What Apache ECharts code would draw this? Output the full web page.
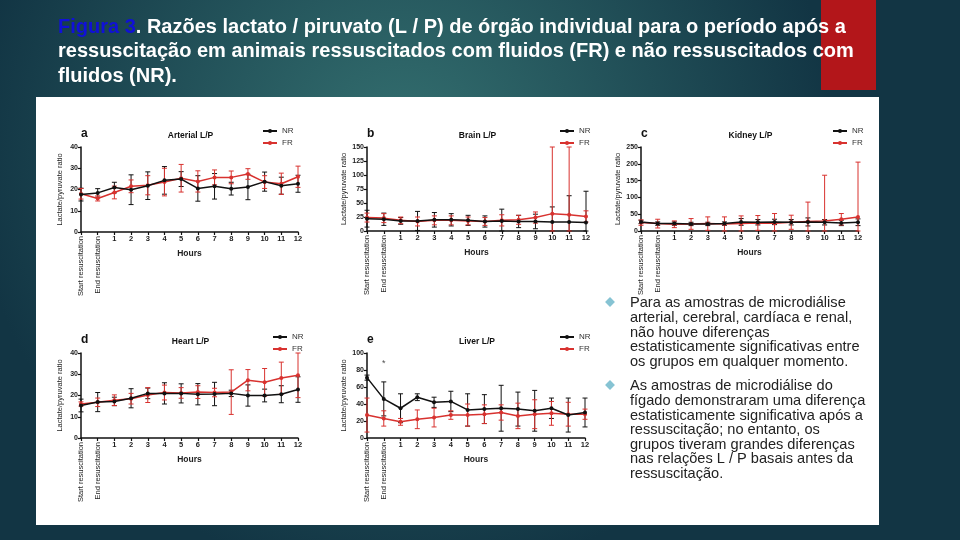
<!DOCTYPE html>
<html>
<head>
<meta charset="utf-8">
<script src="https://cdn.jsdelivr.net/npm/echarts@6/dist/echarts.min.js"></script>
<style>
  html, body { margin: 0; padding: 0; }
  #main { width: 960px; height: 540px; }
</style>
</head>
<body>
<div id="main"></div>
<script>
// categories on every x axis
const hours = ['Start resuscitation', 'End resuscitation', '1', '2', '3', '4', '5', '6', '7', '8', '9', '10', '11', '12'];

// a - arterial
const arterialNR = [17.6, 18.4, 20.9, 19.9, 21.8, 24.3, 24.9, 20.5, 21.5, 20.4, 21.2, 23.7, 21.8, 22.7];
const arterialNRsd = [3, 2, 2.5, 7, 6.5, 6.5, 3.5, 6, 6, 3, 6, 4.5, 4, 4];
const arterialFR = [18, 15.8, 18.6, 21.5, 22, 23.5, 25.3, 23.8, 25.7, 25.7, 27.3, 23.5, 22.7, 26];
const arterialFRsd = [2.5, 1.2, 3, 3, 4.5, 6.5, 6.5, 5, 3.5, 3, 2.5, 3, 5, 5];

// b - brain
const brainNR = [22, 21, 18, 18, 20, 20, 19, 17, 18, 17, 17, 16, 16, 15];
const brainNRsd = [15, 11, 6, 17, 13, 11, 9, 10, 21, 11, 13, 27, 47, 56];
const brainFR = [24, 23, 19, 17, 19, 19, 18, 17, 19, 20, 24, 31, 29, 26];
const brainFRsd = [8, 8, 6, 8, 8, 8, 7, 7, 10, 8, 10, 119, 121, 10];

// c - kidney
const kidneyNR = [27, 22, 22, 21, 21, 22, 27, 26, 27, 26, 27, 26, 24, 26];
const kidneyNRsd = [5, 5, 5, 5, 5, 5, 10, 8, 8, 8, 12, 8, 8, 10];
const kidneyFR = [25, 22, 20, 21, 22, 21, 22, 24, 23, 26, 28, 30, 35, 42];
const kidneyFRsd = [8, 13, 10, 16, 20, 21, 23, 22, 29, 21, 58, 136, 17, 163];

// d - heart
const heartNR = [15.3, 16.9, 17.2, 18.7, 21, 21, 21, 20.6, 20.7, 21, 20, 20, 20.6, 22.8];
const heartNRsd = [3, 4.5, 2, 4.5, 2.5, 5, 4.5, 5, 5.5, 1.5, 5, 3, 4, 6];
const heartFR = [16, 16.8, 17.8, 18.5, 20.2, 21.4, 21.2, 21.6, 21.4, 21.6, 27.2, 26.2, 28.2, 29.5];
const heartFRsd = [1, 2, 2.5, 2.5, 3.5, 3.5, 2.5, 3, 2, 10.5, 5, 6.5, 7.5, 10.5];

// e - liver
const liverNR = [71, 46, 35, 48, 42, 43, 33, 34, 35, 34, 32, 35, 27, 30];
const liverNRsd = [3, 20, 17, 4, 6, 12, 19, 17, 27, 20, 24, 12, 20, 17];
const liverFR = [27, 23, 19, 22, 24, 27, 27, 28, 30, 26, 28, 29, 28, 28];
const liverFRsd = [20, 9, 4, 11, 11, 5, 13, 11, 9, 15, 17, 14, 14, 6];
const liverStar = [['End resuscitation', 88]];

// y axis ticks [min, max, step]
const arterialTicks = [0, 40, 10];
const brainTicks = [0, 150, 25];
const kidneyTicks = [0, 250, 50];
const heartTicks = [0, 40, 10];
const liverTicks = [0, 100, 20];

const titleLines = [
    '{b|Figura 3}. Razões lactato / piruvato (L / P) de órgão individual para o período após a',
    'ressuscitação em animais ressuscitados com fluidos (FR) e não ressuscitados com',
    'fluidos (NR).'
];
const bullet1 = ['Para as amostras de microdiálise', 'arterial, cerebral, cardíaca e renal,', 'não houve diferenças', 'estatisticamente significativas entre', 'os grupos em qualquer momento.'];
const bullet2 = ['As amostras de microdiálise do', 'fígado demonstraram uma diferença', 'estatisticamente significativa após a', 'ressuscitação; no entanto, os', 'grupos tiveram grandes diferenças', 'nas relações L / P basais antes da', 'ressuscitação.'];

const NR_COLOR = '#111111';
const FR_COLOR = '#d8322f';
const FONT = '"Liberation Sans", Arial, sans-serif';

const panels = [
    { letter: 'a', name: 'Arterial L/P', nr: arterialNR, nrsd: arterialNRsd, fr: arterialFR, frsd: arterialFRsd, ticks: arterialTicks,
      left: 81, top: 147, width: 217, height: 85, legendLeft: 262, legendTop: 127 },
    { letter: 'b', name: 'Brain L/P', nr: brainNR, nrsd: brainNRsd, fr: brainFR, frsd: brainFRsd, ticks: brainTicks,
      left: 367, top: 147, width: 219, height: 84, legendLeft: 559, legendTop: 127 },
    { letter: 'c', name: 'Kidney L/P', nr: kidneyNR, nrsd: kidneyNRsd, fr: kidneyFR, frsd: kidneyFRsd, ticks: kidneyTicks,
      left: 641, top: 147, width: 217, height: 84, legendLeft: 832, legendTop: 127 },
    { letter: 'd', name: 'Heart L/P', nr: heartNR, nrsd: heartNRsd, fr: heartFR, frsd: heartFRsd, ticks: heartTicks,
      left: 81, top: 353, width: 217, height: 85, legendLeft: 272, legendTop: 333 },
    { letter: 'e', name: 'Liver L/P', nr: liverNR, nrsd: liverNRsd, fr: liverFR, frsd: liverFRsd, ticks: liverTicks,
      left: 367, top: 353, width: 218, height: 85, legendLeft: 559, legendTop: 333 }
];

function errData(mean, sd) {
    return mean.map((m, i) => [i, Math.max(0, m - sd[i]), m + sd[i]]);
}

function renderErr(params, api) {
    const x = api.value(0);
    const hi = api.coord([x, api.value(2)]);
    const lo = api.coord([x, api.value(1)]);
    const rect = params.coordSys;
    const top = Math.max(hi[1], rect.y);
    const w = 2.5;
    const style = { stroke: api.visual('color'), lineWidth: 1 };
    const kids = [
        { type: 'line', shape: { x1: hi[0], y1: top, x2: lo[0], y2: lo[1] }, style: style },
        { type: 'line', shape: { x1: lo[0] - w, y1: lo[1], x2: lo[0] + w, y2: lo[1] }, style: style }
    ];
    if (hi[1] >= rect.y) {
        kids.push({ type: 'line', shape: { x1: hi[0] - w, y1: hi[1], x2: hi[0] + w, y2: hi[1] }, style: style });
    }
    return { type: 'group', children: kids };
}

const grid = [], xAxis = [], yAxis = [], series = [], errSeries = [], title = [], legend = [];

panels.forEach((p, g) => {
    grid.push({ left: p.left, top: p.top, width: p.width, height: p.height });
    const axisCommon = {
        type: 'category', gridIndex: g, data: hours, boundaryGap: false, position: 'bottom'
    };
    xAxis.push(Object.assign({}, axisCommon, {
        name: 'Hours', nameLocation: 'middle', nameGap: 17,
        nameTextStyle: { fontFamily: FONT, fontSize: 8.5, fontWeight: 'bold', color: '#222' },
        axisLine: { lineStyle: { color: '#111', width: 1.5 } },
        axisTick: { length: 3, lineStyle: { color: '#111', width: 1.2 }, interval: 0 },
        axisLabel: { interval: 0, margin: 3, fontFamily: FONT, fontSize: 7.5, fontWeight: 'bold', color: '#222',
            formatter: (v, i) => (i < 2 ? '' : v) }
    }));
    xAxis.push(Object.assign({}, axisCommon, {
        axisLine: { show: false }, axisTick: { show: false },
        axisLabel: { interval: 0, rotate: 90, margin: 4, fontFamily: FONT, fontSize: 7.5, color: '#222',
            formatter: (v, i) => (i < 2 ? v : '') }
    }));
    yAxis.push({
        type: 'value', gridIndex: g, min: p.ticks[0], max: p.ticks[1], interval: p.ticks[2],
        name: 'Lactate/pyruvate ratio', nameLocation: 'middle', nameGap: 17,
        nameTextStyle: { fontFamily: FONT, fontSize: 7.5, color: '#222' },
        splitLine: { show: false },
        axisLine: { show: true, lineStyle: { color: '#111', width: 1.5 } },
        axisTick: { show: true, length: 3, lineStyle: { color: '#111', width: 1.2 } },
        axisLabel: { margin: 3, fontFamily: FONT, fontSize: 7, fontWeight: 'bold', color: '#222' }
    });
    title.push({ text: p.letter, left: p.left - 5, top: p.top - 24,
        textStyle: { fontFamily: FONT, fontSize: 12, fontWeight: 'bold', color: '#111' } });
    title.push({ text: p.name, left: p.left + p.width * 0.5 - 4, textAlign: 'center', top: p.top - 21,
        textStyle: { fontFamily: FONT, fontSize: 8.5, fontWeight: 'bold', color: '#111' } });
    legend.push({ data: ['NR', 'FR'], orient: 'vertical', left: p.legendLeft, top: p.legendTop,
        itemWidth: 14, itemHeight: 5, itemGap: 4, padding: 0,
        textStyle: { fontFamily: FONT, fontSize: 8, color: '#333' } });

    const xi = g * 2;
    series.push({ type: 'line', name: 'NR', xAxisIndex: xi, yAxisIndex: g, data: p.nr,
        symbol: 'circle', symbolSize: 4, lineStyle: { color: NR_COLOR, width: 1.5 }, itemStyle: { color: NR_COLOR }, z: 5 });
    series.push({ type: 'line', name: 'FR', xAxisIndex: xi, yAxisIndex: g, data: p.fr,
        symbol: 'circle', symbolSize: 4, lineStyle: { color: FR_COLOR, width: 1.5 }, itemStyle: { color: FR_COLOR }, z: 4 });
    errSeries.push({ type: 'custom', name: 'NR', xAxisIndex: xi, yAxisIndex: g, renderItem: renderErr,
        itemStyle: { color: NR_COLOR }, data: errData(p.nr, p.nrsd), z: 3, silent: true });
    errSeries.push({ type: 'custom', name: 'FR', xAxisIndex: xi, yAxisIndex: g, renderItem: renderErr,
        itemStyle: { color: FR_COLOR, opacity: 0.85 }, data: errData(p.fr, p.frsd), z: 3, silent: true });
});

// line series come first so the legend takes their line+dot icon
series.push(...errSeries);
series.push({ type: 'scatter', xAxisIndex: 8, yAxisIndex: 4, data: liverStar, symbolSize: 0,
    label: { show: true, formatter: '*', position: 'inside', fontSize: 9, color: '#222' } });

const graphic = [
    { type: 'rect', shape: { x: 821, y: 0, width: 55, height: 90 }, style: { fill: '#b3161a' }, z: -2 },
    { type: 'rect', shape: { x: 36, y: 97, width: 843, height: 428 }, style: { fill: '#ffffff' }, z: -1 },
    { type: 'text', x: 58, y: 15, z: 10, style: {
        text: titleLines.join('\n'), fill: '#ffffff', font: 'bold 20px ' + FONT, lineHeight: 24.5,
        rich: { b: { fill: '#1010d8', fontSize: 20, fontWeight: 'bold', fontFamily: FONT } } } },
    { type: 'rect', shape: { x: -3.5, y: -3.5, width: 7, height: 7 }, x: 610, y: 302, rotation: Math.PI / 4,
        style: { fill: '#86c3d3' } },
    { type: 'rect', shape: { x: -3.5, y: -3.5, width: 7, height: 7 }, x: 610, y: 385, rotation: Math.PI / 4,
        style: { fill: '#86c3d3' } },
    { type: 'text', x: 630, y: 296, style: { text: bullet1.join('\n'), fill: '#222', font: '14.6px ' + FONT, lineHeight: 14.7 } },
    { type: 'text', x: 630, y: 379, style: { text: bullet2.join('\n'), fill: '#222', font: '14.6px ' + FONT, lineHeight: 14.6 } }
];

const chart = echarts.init(document.getElementById('main'));
chart.setOption({
    animation: false,
    backgroundColor: {
        type: 'radial', x: 0.42, y: 0.28, r: 0.8,
        colorStops: [{ offset: 0, color: '#347070' }, { offset: 1, color: '#123544' }]
    },
    title: title,
    legend: legend,
    grid: grid,
    xAxis: xAxis,
    yAxis: yAxis,
    graphic: graphic,
    series: series
});
</script>
</body>
</html>
